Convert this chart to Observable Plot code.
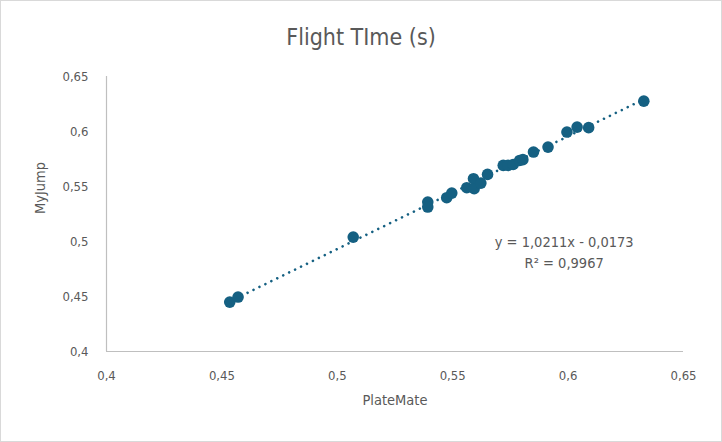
<!DOCTYPE html>
<html>
<head>
<meta charset="utf-8">
<script src="https://cdn.jsdelivr.net/npm/d3@7"></script>
<script src="https://cdn.jsdelivr.net/npm/@observablehq/plot@0.6"></script>
<style>
  html, body { margin: 0; padding: 0; background: #fff; }
  #chart { position: relative; width: 722px; height: 442px; background: #fff;
    font-family: "Liberation Sans Narrow", "DejaVu Sans Condensed", "Liberation Sans", sans-serif; }
  #frame { position: absolute; left: 0; top: 0; width: 720px; height: 440px; border: 1px solid #d9d9d9; pointer-events: none; }
  #title { height: 56px; line-height: 74px; text-align: center; font-size: 23px; color: #595959; }
  #chart svg { display: block; }
</style>
</head>
<body>
<div id="chart"><div id="title">Flight TIme (s)</div><div id="frame"></div></div>
<script>
const plateMate = [0.4534, 0.4570, 0.5069, 0.5392, 0.5392, 0.5474, 0.5496, 0.5561, 0.5590, 0.5593, 0.5622, 0.5651, 0.5719, 0.5740, 0.5762, 0.5790, 0.5804, 0.5850, 0.5913, 0.5995, 0.6039, 0.6089, 0.6328];
const myJump   = [0.4449, 0.4495, 0.5040, 0.5358, 0.5313, 0.5398, 0.5440, 0.5489, 0.5571, 0.5480, 0.5531, 0.5610, 0.5692, 0.5692, 0.5700, 0.5737, 0.5744, 0.5813, 0.5858, 0.5995, 0.6040, 0.6035, 0.6276];
const xTicks = [0.4, 0.45, 0.5, 0.55, 0.6, 0.65];
const yTicks = [0.4, 0.45, 0.5, 0.55, 0.6, 0.65];
const equationText = "y = 1,0211x - 0,0173";
const r2Text = "R² = 0,9967";

const data = plateMate.map((x, i) => ({x, y: myJump[i]}));
const fmt = d => String(+d.toFixed(2)).replace(".", ",");
const grey = "#595959";
const blue = "#156082";

const plot = Plot.plot({
  width: 722,
  height: 386,
  marginLeft: 106,
  marginRight: 39,
  marginTop: 20,
  marginBottom: 91,
  style: {fontFamily: '"Liberation Sans Narrow", "DejaVu Sans Condensed", "Liberation Sans", sans-serif', fontSize: "13px", color: grey, background: "white"},
  x: {domain: [0.4, 0.65], ticks: xTicks, tickFormat: fmt, label: null},
  y: {domain: [0.4, 0.65], ticks: yTicks, tickFormat: fmt, label: null},
  marks: [
    Plot.axisX({ticks: xTicks, tickFormat: fmt, tickSize: 0, tickPadding: 19, label: null, fill: grey, fontSize: 13}),
    Plot.axisY({ticks: yTicks, tickFormat: fmt, tickSize: 0, tickPadding: 18, label: null, fill: grey, fontSize: 13}),
    Plot.ruleX([0.4], {stroke: "#bfbfbf", strokeWidth: 1.2}),
    Plot.ruleY([0.4], {stroke: "#bfbfbf", strokeWidth: 1.2}),
    Plot.linearRegressionY(data, {x: "x", y: "y", ci: 0, stroke: blue, strokeWidth: 2.6, strokeDasharray: "0.01,6.6", strokeLinecap: "round", strokeOpacity: 1}),
    Plot.dot(data, {x: "x", y: "y", r: 5.8, fill: blue, stroke: "none"}),
    Plot.text([equationText], {x: 0.5983, y: 0.4995, text: d => d, fill: grey, fontSize: 14.5, textAnchor: "middle"}),
    Plot.text([r2Text], {x: 0.5983, y: 0.4800, text: d => d, fill: grey, fontSize: 14.5, textAnchor: "middle"}),
    Plot.text(["PlateMate"], {frameAnchor: "bottom", dy: 53, text: d => d, fill: grey, fontSize: 14.5}),
    Plot.text(["MyJump"], {frameAnchor: "left", dx: -66, rotate: -90, text: d => d, fill: grey, fontSize: 14.5})
  ]
});
document.getElementById("chart").insertBefore(plot, document.getElementById("frame"));
</script>
</body>
</html>
